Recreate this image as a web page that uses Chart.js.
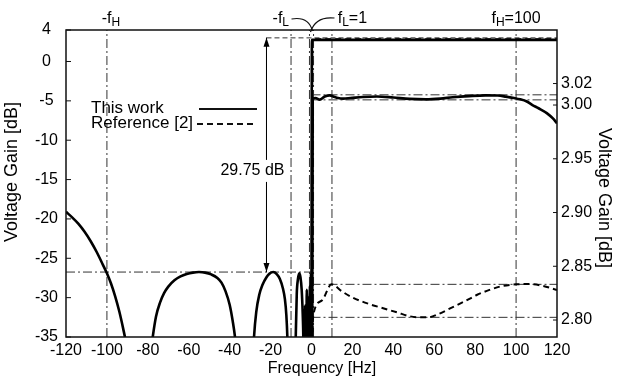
<!DOCTYPE html>
<html>
<head>
<meta charset="utf-8">
<script src="https://cdn.jsdelivr.net/npm/chart.js@4.4.1/dist/chart.umd.min.js"></script>
<style>
  html, body { margin: 0; padding: 0; background: #fff; }
</style>
</head>
<body>
<canvas id="gain" width="619" height="381"></canvas>
<script>
// ticks
const xTicks = [-120, -100, -80, -60, -40, -20, 0, 20, 40, 60, 80, 100, 120];
const leftTicks = [-35, -30, -25, -20, -15, -10, -5, 0, 4];
const rightTicks = [2.80, 2.85, 2.90, 2.95, 3.00, 3.02];

// This work, full scale (left axis)
const thisWorkFreq = [-120, -117, -114, -111, -108, -105, -102, -100, -98, -96, -94, -92, -90, -85,
  -80, -77.6, -76, -74, -72, -70, -67, -64, -61, -58, -55, -52, -49, -46, -44, -42, -40, -38.5, -37.4, -36, -33,
  -29, -28.1, -27, -25.5, -24, -22, -20.5, -18.7, -17, -15.5, -14, -13, -12.3, -11.8, -11.3, -9.7,
  -8.2, -7.7, -7.2, -6.6, -6.0, -5.4, -4.8, -4.3, -4.0, -3.7,
  -3.5, -3.1, -2.7, -2.3, -1.9, -1.5, -1.1, -0.8, -0.5, -0.25, -0.1, 0.2, 120];
const thisWorkGain = [-19.1, -19.8, -20.6, -21.6, -22.8, -24.2, -25.8, -26.9, -28.2, -29.8, -31.7, -34.0, -36.6, -45,
  -40, -35, -32.4, -30.6, -29.4, -28.6, -27.8, -27.3, -27.0, -26.82, -26.75, -26.82, -27.05, -27.5, -28.1, -29.2, -30.9, -33.0, -35, -39, -55,
  -40, -35, -31.8, -29.6, -28.4, -27.4, -26.95, -26.75, -27.0, -27.6, -28.8, -30.2, -32.2, -35, -40, -55,
  -42, -35, -29.5, -27.6, -26.9, -27.4, -29, -32, -35, -42,
  -50, -31, -50, -29, -50, -30, -50, -28.5, -50, -27, -40, 2.75, 2.75];

// Reference [2], full scale (left axis)
const refFreq = [0.1, 0.4, 120];
const refGain = [-40, 2.83, 2.83];

// passband detail (right axis)
const thisWorkZoomFreq = [0.3, 0.6, 2, 4, 6.5, 9, 10.6, 13, 15.5, 19, 25, 32, 40, 48, 56, 63, 69, 77, 85, 91,
  95, 99, 102, 105, 108, 111, 115, 118, 120];
const thisWorkZoomGain = [2.70, 3.006, 3.0065, 3.005, 3.008, 3.009, 3.008, 3.0065, 3.006, 3.0065, 3.0075, 3.008, 3.007, 3.0057, 3.0053, 3.006, 3.0072, 3.0083, 3.009, 3.0088,
  3.0078, 3.0065, 3.0053, 3.0035, 3.000, 2.997, 2.9925, 2.9875, 2.983];
const refZoomFreq = [0.1, 0.9, 5, 9.8, 15, 20, 28, 35, 42, 48, 53, 57, 62, 68, 75, 81, 87, 93, 100, 106, 113, 120];
const refZoomGain = [2.77, 2.805, 2.818, 2.8332, 2.8265, 2.821, 2.815, 2.811, 2.807, 2.8035, 2.8025, 2.8025, 2.8055, 2.811, 2.8175, 2.8235, 2.828, 2.8315, 2.8332, 2.8335, 2.8318, 2.8279];

// guide lines
const markerFreq = [-100, -10, -1, 1, 10, 100];
const passLevel = 3.0;
const rejection = 29.75;
const stopLevel = passLevel - rejection;
const zoomLevels = [3.0095, 3.0048, 2.8332, 2.8025];
const arrowFreq = -22;

const FONT = "'Liberation Sans', Arial, sans-serif";
Chart.defaults.font.family = FONT;
Chart.defaults.font.size = 16;
Chart.defaults.color = '#000';

function pts(xs, ys) {
  return xs.map((x, i) => ({x: x, y: ys[i]}));
}

const guide = {borderColor: '#333', borderWidth: 1, borderDash: [9, 3, 2, 3], pointRadius: 0, tension: 0};

const datasets = [
  {data: pts(thisWorkFreq, thisWorkGain), yAxisID: 'y', borderColor: '#000', borderWidth: 2.6, pointRadius: 0, cubicInterpolationMode: 'monotone'},
  {data: pts(thisWorkZoomFreq, thisWorkZoomGain), yAxisID: 'y2', borderColor: '#000', borderWidth: 2.6, pointRadius: 0, cubicInterpolationMode: 'monotone'},
  {data: pts(refFreq, refGain), yAxisID: 'y', borderColor: '#000', borderWidth: 2, borderDash: [6, 4], pointRadius: 0},
  {data: pts(refZoomFreq, refZoomGain), yAxisID: 'y2', borderColor: '#000', borderWidth: 2, borderDash: [6, 4], pointRadius: 0, cubicInterpolationMode: 'monotone'},
  // arrow shaft
  {data: [{x: arrowFreq, y: passLevel}, {x: arrowFreq, y: stopLevel}], yAxisID: 'y', borderColor: '#000', borderWidth: 1, pointRadius: 0},
  Object.assign({data: [{x: arrowFreq, y: passLevel}, {x: 120, y: passLevel}], yAxisID: 'y'}, guide, {borderDash: [5, 3]}),
  Object.assign({data: [{x: -120, y: stopLevel}, {x: 0, y: stopLevel}], yAxisID: 'y'}, guide),
];
markerFreq.forEach(f => datasets.push(Object.assign({data: [{x: f, y: -35}, {x: f, y: 4}], yAxisID: 'y'}, guide)));
zoomLevels.forEach(v => datasets.push(Object.assign({data: [{x: 0, y: v}, {x: 120, y: v}], yAxisID: 'y2'}, guide)));

// labels on top of the frame
const topLabels = [
  {main: '-f', sub: 'H', tail: '', at: -98},
  {main: '-f', sub: 'L', tail: '', at: -15},
  {main: 'f', sub: 'L', tail: '=1', at: 20},
  {main: 'f', sub: 'H', tail: '=100', at: 100},
];

const extras = {
  id: 'extras',
  afterDraw(chart) {
    const c = chart.ctx, a = chart.chartArea;
    const x = chart.scales.x, y = chart.scales.y, y2 = chart.scales.y2;
    c.save();
    // frame
    c.strokeStyle = '#111';
    c.lineWidth = 1.5;
    c.strokeRect(a.left, a.top, a.right - a.left, a.bottom - a.top);
    // inward tick marks
    c.lineWidth = 1;
    c.beginPath();
    y.ticks.forEach(t => { const p = y.getPixelForValue(t.value); c.moveTo(a.left, p); c.lineTo(a.left + 5, p); });
    y2.ticks.forEach(t => { const p = y2.getPixelForValue(t.value); c.moveTo(a.right, p); c.lineTo(a.right - 4, p); });
    c.stroke();

    // arrow heads
    const ax = x.getPixelForValue(arrowFreq);
    const at = y.getPixelForValue(passLevel), ab = y.getPixelForValue(stopLevel);
    c.fillStyle = '#000';
    c.beginPath(); c.moveTo(ax, at); c.lineTo(ax - 3, at + 9); c.lineTo(ax + 3, at + 9); c.closePath(); c.fill();
    c.beginPath(); c.moveTo(ax, ab); c.lineTo(ax - 3, ab - 9); c.lineTo(ax + 3, ab - 9); c.closePath(); c.fill();

    // 29.75 dB
    const txt = rejection.toFixed(2) + ' dB';
    c.font = '16px ' + FONT;
    c.textAlign = 'center';
    c.textBaseline = 'middle';
    const lx = ax - 14, ly = y.getPixelForValue(-13.9);
    const w = c.measureText(txt).width;
    c.fillStyle = '#fff';
    c.fillRect(lx - w / 2, ly - 11, w, 22);
    c.fillStyle = '#000';
    c.fillText(txt, lx, ly);

    // legend
    c.textAlign = 'left';
    c.font = '17px ' + FONT;
    c.fillText('This work', a.left + 25, 108);
    c.fillText('Reference [2]', a.left + 25, 123);
    c.lineWidth = 2;
    c.beginPath(); c.moveTo(199, 109); c.lineTo(257, 109); c.stroke();
    c.setLineDash([6, 4]);
    c.beginPath(); c.moveTo(197, 124); c.lineTo(257, 124); c.stroke();
    c.setLineDash([]);

    // -fH, -fL, fL=1, fH=100
    c.textBaseline = 'alphabetic';
    topLabels.forEach(l => {
      c.font = '16px ' + FONT;
      const w1 = c.measureText(l.main).width, w3 = c.measureText(l.tail).width;
      c.font = '12px ' + FONT;
      const w2 = c.measureText(l.sub).width;
      let px = x.getPixelForValue(l.at) - (w1 + w2 + w3) / 2;
      const base = a.top - 7;
      c.font = '16px ' + FONT;
      c.fillText(l.main, px, base);
      c.font = '12px ' + FONT;
      c.fillText(l.sub, px + w1, base + 3);
      c.font = '16px ' + FONT;
      c.fillText(l.tail, px + w1 + w2, base);
    });
    // curly pointers to +-fL
    const x0 = x.getPixelForValue(0);
    c.lineWidth = 1.2;
    c.beginPath(); c.moveTo(x0 - 20, 19); c.quadraticCurveTo(x0 - 3, 16, x0 + 1, 31); c.stroke();
    c.beginPath(); c.moveTo(x0 + 23, 18); c.quadraticCurveTo(x0 + 4, 16, x0 - 1, 32); c.stroke();

    // axis titles
    c.font = '16px ' + FONT;
    c.textAlign = 'center';
    c.textBaseline = 'middle';
    c.fillText('Frequency [Hz]', 322, 369);
    c.font = '18px ' + FONT;
    c.save(); c.translate(12, 172); c.rotate(-Math.PI / 2); c.fillText('Voltage Gain [dB]', 0, 0); c.restore();
    c.save(); c.translate(604, 198); c.rotate(Math.PI / 2); c.fillText('Voltage Gain [dB]', 0, 0); c.restore();
    c.restore();
  }
};

const ctx = document.getElementById('gain').getContext('2d');
const gain = new Chart(ctx, {
  type: 'line',
  data: {datasets: datasets},
  options: {
    responsive: false,
    animation: false,
    layout: {padding: {top: 30, left: 0, right: 0, bottom: 0}},
    plugins: {legend: {display: false}, tooltip: {enabled: false}},
    scales: {
      x: {
        type: 'linear', min: -120, max: 120,
        afterBuildTicks: s => { s.ticks = xTicks.map(v => ({value: v})); },
        afterFit: s => { s.height = 44; },
        grid: {display: false, drawTicks: false},
        border: {display: false},
        ticks: {padding: 4, autoSkip: false, maxRotation: 0, callback: v => String(v)}
      },
      y: {
        position: 'left', min: -35, max: 4,
        afterBuildTicks: s => { s.ticks = leftTicks.map(v => ({value: v})); },
        afterFit: s => { s.width = 66; },
        grid: {display: false, drawTicks: false},
        border: {display: false},
        ticks: {padding: 8, crossAlign: 'center', autoSkip: false, callback: v => String(v)}
      },
      y2: {
        position: 'right', min: 2.7842, max: 3.0698,
        afterBuildTicks: s => { s.ticks = rightTicks.map(v => ({value: v})); },
        afterFit: s => { s.width = 62; },
        grid: {display: false, drawTicks: false},
        border: {display: false},
        ticks: {padding: 4, autoSkip: false, callback: v => v.toFixed(2)}
      }
    }
  },
  plugins: [extras]
});
</script>
</body>
</html>
